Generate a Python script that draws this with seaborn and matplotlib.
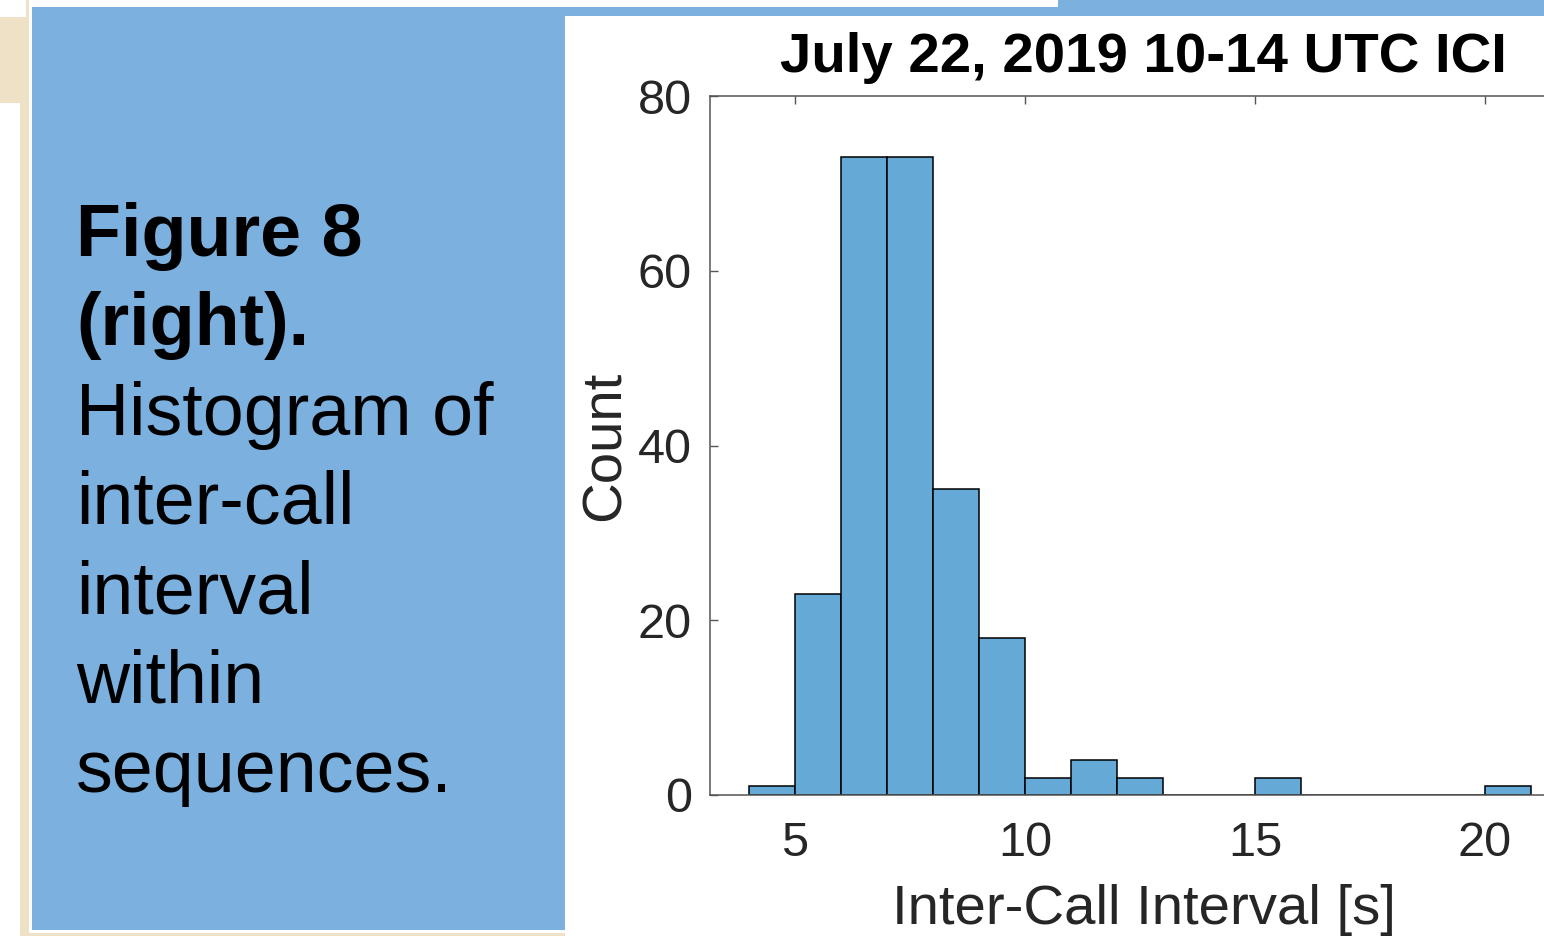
import numpy as np
import pandas as pd
import matplotlib
matplotlib.use("Agg")
import matplotlib.pyplot as plt
from matplotlib.patches import Rectangle
import seaborn as sns

# Histogram bins (left edge, seconds) and call counts per 1-s bin
bin_left = [4, 5, 6, 7, 8, 9, 10, 11, 12, 13, 14, 15, 16, 17, 18, 19, 20]
counts = [1, 23, 73, 73, 35, 18, 2, 4, 2, 0, 0, 2, 0, 0, 0, 0, 1]
bin_edges = list(range(4, 22))

x_ticks = [5, 10, 15, 20]
y_ticks = [0, 20, 40, 60, 80]

title = "July 22, 2019 10-14 UTC ICI"
x_label = "Inter-Call Interval [s]"
y_label = "Count"

caption_bold = ["Figure 8", "(right)."]
caption_plain = ["Histogram of", "inter-call", "interval", "within", "sequences."]

sns.set_style("white")
plt.rcParams["font.family"] = ["Liberation Sans", "DejaVu Sans"]

W, H = 1544, 936
fig = plt.figure(figsize=(W / 100, H / 100), dpi=100)
fig.patch.set_facecolor("white")


def rect_px(x0, y0, x1, y1, color):
    """Add a rectangle given in pixel coordinates measured from the top-left."""
    fig.patches.append(Rectangle((x0 / W, 1 - y1 / H), (x1 - x0) / W, (y1 - y0) / H,
                                 transform=fig.transFigure, facecolor=color,
                                 edgecolor="none", zorder=0))


beige = "#EFE1C5"
panel = "#7BB0DF"
# slide frame and caption panel
rect_px(0, 17, 26, 103, beige)
rect_px(20, 17, 29, 936, beige)
rect_px(26, 0, 29, 17, beige)
rect_px(20, 933, 565, 936, beige)
rect_px(32, 7, 565, 930, panel)
rect_px(565, 7, 1544, 16, panel)
rect_px(1058, 0, 1544, 16, panel)

# caption text
line_h = 89.3
y0 = 256
for i, line in enumerate(caption_bold + caption_plain):
    fig.text(76 / W, 1 - (y0 + i * line_h) / H, line, fontsize=53,
             fontweight="bold" if i < len(caption_bold) else "normal",
             color="black", va="baseline", ha="left")

# histogram axes (extends past the right edge of the figure)
ax_left, ax_top, ax_bottom = 710, 96, 795
ax_right = 1577
ax = fig.add_axes([ax_left / W, 1 - ax_bottom / H, (ax_right - ax_left) / W,
                   (ax_bottom - ax_top) / H])
ax.set_facecolor("white")

df = pd.DataFrame({"interval": np.array(bin_left) + 0.5, "count": counts})
sns.histplot(data=df, x="interval", weights="count", bins=bin_edges, stat="count",
             color="#65A9D7", alpha=1.0, edgecolor="black", linewidth=1.1, ax=ax)

ax.set_xlim(3.152, 22.0)
ax.set_ylim(0, 80)
ax.set_xticks(x_ticks)
ax.set_yticks(y_ticks)

tick_col = "#262626"
ax.tick_params(axis="both", direction="in", length=5.5, width=1.0, color="#555555",
               labelsize=35, labelcolor=tick_col)
ax.tick_params(axis="x", top=True, bottom=True, pad=19)
ax.tick_params(axis="y", left=True, right=False, pad=13)

for side in ["top", "left", "bottom"]:
    ax.spines[side].set_visible(True)
    ax.spines[side].set_color("#555555")
    ax.spines[side].set_linewidth(1.1)
ax.spines["right"].set_visible(False)

ax.set_title(title, fontsize=40.6, fontweight="bold", color="black", pad=17)
ax.set_xlabel(x_label, fontsize=40.6, color=tick_col, labelpad=13)
ax.set_ylabel(y_label, fontsize=40.6, color=tick_col)
ax.yaxis.set_label_coords((632 - ax_left) / (ax_right - ax_left), 0.5)

fig.savefig("out.png", dpi=100)
